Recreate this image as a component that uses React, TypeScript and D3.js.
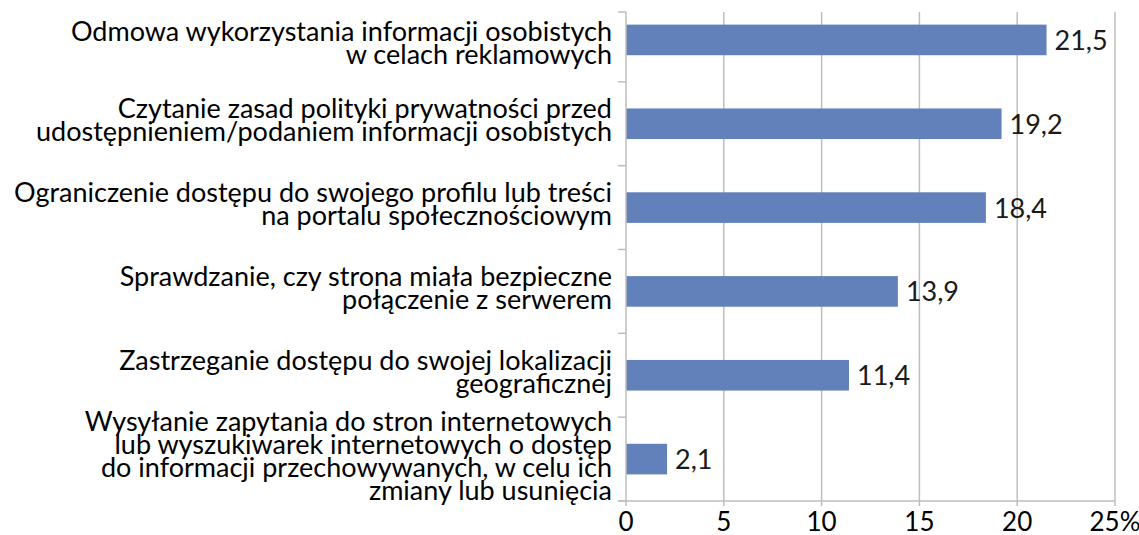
//@ts-nocheck
import { useEffect, useRef } from 'react';
import * as d3 from 'd3';

// category labels (line breaks as in the original chart)
const categories = [
    ['Odmowa wykorzystania informacji osobistych', 'w celach reklamowych'],
    ['Czytanie zasad polityki prywatności przed', 'udostępnieniem/podaniem informacji osobistych'],
    ['Ograniczenie dostępu do swojego profilu lub treści', 'na portalu społecznościowym'],
    ['Sprawdzanie, czy strona miała bezpieczne', 'połączenie z serwerem'],
    ['Zastrzeganie dostępu do swojej lokalizacji', 'geograficznej'],
    ['Wysyłanie zapytania do stron internetowych', 'lub wyszukiwarek internetowych o dostęp', 'do informacji przechowywanych, w celu ich', 'zmiany lub usunięcia'],
];
const values = [21.5, 19.2, 18.4, 13.9, 11.4, 2.1];
const xTicks = [0, 5, 10, 15, 20, 25];
const xTickLabels = ['0', '5', '10', '15', '20', '25%'];

const W = 1139;
const H = 535;
const FONT = 'Lato, "Open Sans", sans-serif';

const App = () => {
    const svgRef = useRef();

    useEffect(() => {
        const svg = d3.select(svgRef.current);
        svg.selectAll('*').remove();

        const left = 626;
        const right = 1115;
        const top = 12;
        const bottom = 501;

        const x = d3.scaleLinear().domain([0, 25]).range([left, right]);
        const y = d3.scaleBand()
            .domain(categories.map((d, i) => i))
            .range([-2, bottom])
            .paddingInner(0.635)
            .paddingOuter(0.3175);
        const step = y.step();
        // category band edges (clipped to the plot area)
        const bandTop = i => Math.max(top, y(i) - step * y.paddingInner() / 2);
        const bandBottom = i => Math.min(bottom, y(i) + y.bandwidth() + step * y.paddingInner() / 2);

        // vertical gridlines
        svg.append('g')
            .selectAll('line')
            .data(xTicks.slice(1))
            .enter()
            .append('line')
            .attr('x1', d => x(d))
            .attr('x2', d => x(d))
            .attr('y1', top)
            .attr('y2', bottom + 5)
            .attr('stroke', '#BEBEBE')
            .attr('stroke-width', 1.5);

        svg.append('line')
            .attr('x1', x(0)).attr('x2', x(0))
            .attr('y1', bottom).attr('y2', bottom + 5)
            .attr('stroke', '#BEBEBE').attr('stroke-width', 1.5);

        // bars
        svg.append('g')
            .selectAll('rect')
            .data(values)
            .enter()
            .append('rect')
            .attr('x', x(0))
            .attr('y', (d, i) => y(i))
            .attr('width', d => x(d) - x(0))
            .attr('height', y.bandwidth())
            .attr('fill', '#6281BA');

        // category axis line + ticks
        svg.append('line')
            .attr('x1', x(0)).attr('x2', x(0))
            .attr('y1', top).attr('y2', bottom)
            .attr('stroke', '#BEBEBE').attr('stroke-width', 1.5);
        const bounds = categories.map((d, i) => bandTop(i));
        bounds.push(bottom);
        svg.append('g')
            .selectAll('line')
            .data(bounds)
            .enter()
            .append('line')
            .attr('x1', x(0) - 8)
            .attr('x2', x(0))
            .attr('y1', d => d)
            .attr('y2', d => d)
            .attr('stroke', '#BEBEBE')
            .attr('stroke-width', 1.5);

        // value axis line
        svg.append('line')
            .attr('x1', x(0) - 8).attr('x2', right)
            .attr('y1', bottom).attr('y2', bottom)
            .attr('stroke', '#BEBEBE').attr('stroke-width', 1.5);

        // x tick labels
        svg.append('g')
            .selectAll('text')
            .data(xTicks)
            .enter()
            .append('text')
            .attr('x', d => x(d))
            .attr('y', bottom + 30)
            .attr('text-anchor', 'middle')
            .style('font-family', FONT)
            .style('font-size', '26px')
            .attr('fill', '#000')
            .text((d, i) => xTickLabels[i]);

        // category labels, centred on the visible part of each band
        const lineH = 23;
        categories.forEach((lines, i) => {
            const cy = (bandTop(i) + bandBottom(i)) / 2;
            const t = svg.append('text')
                .attr('text-anchor', 'end')
                .style('font-family', FONT)
                .style('font-size', '27px')
                .attr('fill', '#000');
            lines.forEach((line, j) => {
                t.append('tspan')
                    .attr('x', 612)
                    .attr('y', cy - (lines.length - 1) * lineH / 2 + 6 + j * lineH)
                    .text(line);
            });
        });

        // value labels
        svg.append('g')
            .selectAll('text')
            .data(values)
            .enter()
            .append('text')
            .attr('x', d => x(d) + 8)
            .attr('y', (d, i) => y(i) + y.bandwidth() / 2 + 10)
            .style('font-family', FONT)
            .style('font-size', '27px')
            .attr('fill', '#1a1a1a')
            .text(d => d.toFixed(1).replace('.', ','));
    }, []);

    return (
        <svg ref={svgRef} width={W} height={H}
            style={{ position: 'absolute', left: 0, top: 0, background: '#fff' }}></svg>
    );
};

export default App;
